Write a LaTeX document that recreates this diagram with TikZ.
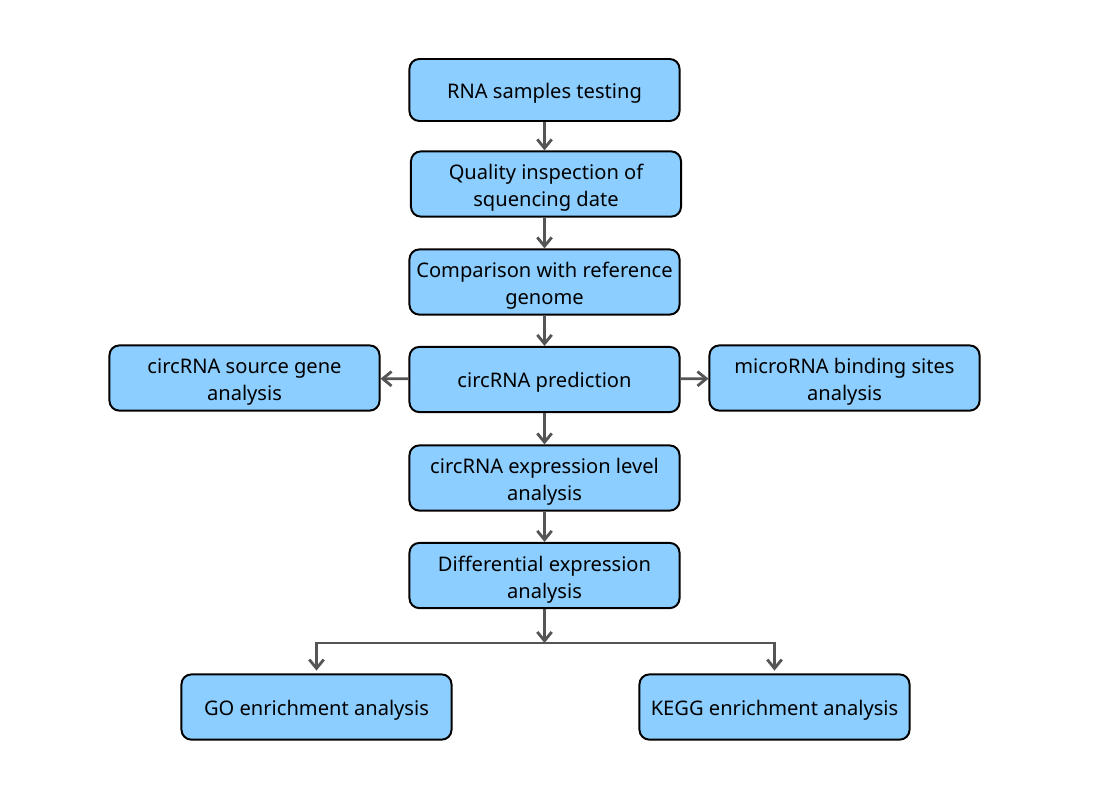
\documentclass[tikz,border=0pt]{standalone}
\usepackage{fontspec}
\setmainfont{Noto Sans}
\definecolor{boxblue}{RGB}{140,206,255}
\definecolor{arrgray}{RGB}{85,85,85}
\usetikzlibrary{arrows.meta,positioning}

\begin{document}
\begin{tikzpicture}[x=0.025cm,y=-0.025cm,
  rbox/.style={draw,line width=1.4pt,rounded corners=7pt,fill=boxblue,
    minimum width=6.75cm,minimum height=1.63cm,inner sep=2pt,
    font=\fontsize{14.3}{19.2}\selectfont,align=center,
    execute at begin node={\rule{0pt}{1.06em}}},
  tworow/.style={execute at begin node={\rule{0pt}{2.5em}}},
  arr/.style={-{Straight Barb[length=2.2mm,width=3.6mm,line width=2pt]},line width=2pt,arrgray}
]
  \useasboundingbox (0,0) rectangle (1096,802);
  % main column
  \node[rbox,minimum height=1.55cm] (rna) at (544.5,90) {RNA samples testing};
  \node[rbox,tworow] (qual) at (546,184) {Quality inspection of\\squencing date};
  \node[rbox,tworow] (comp) at (544.5,282) {Comparison with reference\\genome};
  \node[rbox] (pred) at (544.5,379.5) {circRNA prediction};
  \node[rbox,tworow] (src) at (244.5,378) {circRNA source gene\\analysis};
  \node[rbox,tworow] (mirna) at (844.5,378) {microRNA binding sites\\analysis};
  \node[rbox,tworow] (expr) at (544.5,478) {circRNA expression level\\analysis};
  \node[rbox,tworow] (diff) at (544.5,575.5) {Differential expression\\analysis};
  \node[rbox] (go) at (316.5,707) {GO enrichment analysis};
  \node[rbox] (kegg) at (774.5,707) {KEGG enrichment analysis};
  \coordinate (split) at (544.5,643);

  \draw[arr] (rna) -- (rna|-qual.north);
  \draw[arr] (qual.south-|comp) -- (comp);
  \draw[arr] (comp) -- (pred);
  \draw[arr] (pred) -- (src);
  \draw[arr] (pred) -- (mirna);
  \draw[arr] (pred) -- (expr);
  \draw[arr] (expr) -- (diff);
  \draw[arr] (diff) -- (split);
  \draw[arr,shorten >=2pt] (split) -| (go);
  \draw[arr,shorten >=2pt] (split) -| (kegg);
\end{tikzpicture}
\end{document}
